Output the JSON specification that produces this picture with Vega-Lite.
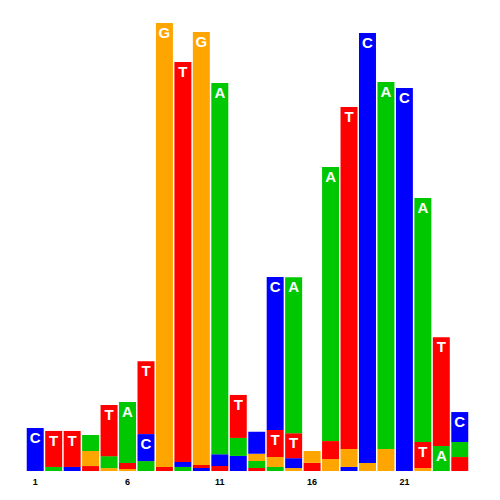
{
  "$schema": "https://vega.github.io/schema/vega-lite/v6.json",
  "autosize": "none",
  "padding": {"left": 26, "top": 21, "right": 31, "bottom": 29},
  "width": 443,
  "height": 450,
  "background": "white",
  "config": {"view": {"stroke": null}},
  "data": {
    "values": [
      {"pos": 1, "base": "C", "bits": 0.191},
      {"pos": 2, "base": "A", "bits": 0.018},
      {"pos": 2, "base": "T", "bits": 0.16},
      {"pos": 3, "base": "C", "bits": 0.018},
      {"pos": 3, "base": "T", "bits": 0.16},
      {"pos": 4, "base": "T", "bits": 0.022},
      {"pos": 4, "base": "G", "bits": 0.067},
      {"pos": 4, "base": "A", "bits": 0.071},
      {"pos": 5, "base": "G", "bits": 0.013},
      {"pos": 5, "base": "A", "bits": 0.053},
      {"pos": 5, "base": "T", "bits": 0.227},
      {"pos": 6, "base": "G", "bits": 0.009},
      {"pos": 6, "base": "T", "bits": 0.027},
      {"pos": 6, "base": "A", "bits": 0.271},
      {"pos": 7, "base": "A", "bits": 0.044},
      {"pos": 7, "base": "C", "bits": 0.12},
      {"pos": 7, "base": "T", "bits": 0.324},
      {"pos": 8, "base": "T", "bits": 0.018},
      {"pos": 8, "base": "G", "bits": 1.973},
      {"pos": 9, "base": "A", "bits": 0.018},
      {"pos": 9, "base": "C", "bits": 0.022},
      {"pos": 9, "base": "T", "bits": 1.778},
      {"pos": 10, "base": "C", "bits": 0.013},
      {"pos": 10, "base": "T", "bits": 0.014},
      {"pos": 10, "base": "G", "bits": 1.924},
      {"pos": 11, "base": "T", "bits": 0.022},
      {"pos": 11, "base": "C", "bits": 0.053},
      {"pos": 11, "base": "A", "bits": 1.649},
      {"pos": 12, "base": "C", "bits": 0.067},
      {"pos": 12, "base": "A", "bits": 0.08},
      {"pos": 12, "base": "T", "bits": 0.191},
      {"pos": 13, "base": "T", "bits": 0.013},
      {"pos": 13, "base": "A", "bits": 0.031},
      {"pos": 13, "base": "G", "bits": 0.033},
      {"pos": 13, "base": "C", "bits": 0.098},
      {"pos": 14, "base": "A", "bits": 0.018},
      {"pos": 14, "base": "G", "bits": 0.044},
      {"pos": 14, "base": "T", "bits": 0.12},
      {"pos": 14, "base": "C", "bits": 0.68},
      {"pos": 15, "base": "G", "bits": 0.013},
      {"pos": 15, "base": "C", "bits": 0.044},
      {"pos": 15, "base": "T", "bits": 0.111},
      {"pos": 15, "base": "A", "bits": 0.693},
      {"pos": 16, "base": "T", "bits": 0.036},
      {"pos": 16, "base": "G", "bits": 0.053},
      {"pos": 17, "base": "G", "bits": 0.053},
      {"pos": 17, "base": "T", "bits": 0.08},
      {"pos": 17, "base": "A", "bits": 1.218},
      {"pos": 18, "base": "C", "bits": 0.018},
      {"pos": 18, "base": "G", "bits": 0.08},
      {"pos": 18, "base": "T", "bits": 1.52},
      {"pos": 19, "base": "G", "bits": 0.036},
      {"pos": 19, "base": "C", "bits": 1.911},
      {"pos": 20, "base": "G", "bits": 0.098},
      {"pos": 20, "base": "A", "bits": 1.631},
      {"pos": 21, "base": "C", "bits": 1.702},
      {"pos": 22, "base": "G", "bits": 0.013},
      {"pos": 22, "base": "T", "bits": 0.116},
      {"pos": 22, "base": "A", "bits": 1.084},
      {"pos": 23, "base": "A", "bits": 0.111},
      {"pos": 23, "base": "T", "bits": 0.484},
      {"pos": 24, "base": "T", "bits": 0.062},
      {"pos": 24, "base": "A", "bits": 0.067},
      {"pos": 24, "base": "C", "bits": 0.133}
    ]
  },
  "transform": [
    {"stack": "bits", "groupby": ["pos"], "sort": [{"field": "bits", "order": "ascending"}], "as": ["y0", "y1"]}
  ],
  "encoding": {
    "x": {
      "field": "pos",
      "type": "ordinal",
      "scale": {"domain": [1,2,3,4,5,6,7,8,9,10,11,12,13,14,15,16,17,18,19,20,21,22,23,24], "paddingInner": 0.08, "paddingOuter": 0.04},
      "axis": {
        "title": null,
        "labelAngle": 0,
        "ticks": false,
        "domain": false,
        "grid": false,
        "labelPadding": 6,
        "labelFont": "Liberation Sans",
        "labelFontSize": 9,
        "labelFontWeight": "bold",
        "labelColor": "black",
        "labelExpr": "(datum.value - 1) % 5 == 0 ? datum.label : ''"
      }
    }
  },
  "layer": [
    {
      "mark": {"type": "bar"},
      "encoding": {
        "y": {"field": "y1", "type": "quantitative", "scale": {"domain": [0, 2], "nice": false}, "axis": null},
        "y2": {"field": "y0"},
        "color": {
          "field": "base",
          "type": "nominal",
          "scale": {"domain": ["A", "C", "G", "T"], "range": ["#00C800", "#0000FF", "#FFA500", "#FF0000"]},
          "legend": null
        }
      }
    },
    {
      "transform": [{"filter": "datum.bits > 0.1"}],
      "mark": {"type": "text", "baseline": "top", "dy": 3, "font": "Liberation Sans", "fontWeight": "bold", "fontSize": 15, "color": "white"},
      "encoding": {
        "y": {"field": "y1", "type": "quantitative", "scale": {"domain": [0, 2], "nice": false}, "axis": null},
        "text": {"field": "base"}
      }
    }
  ]
}
